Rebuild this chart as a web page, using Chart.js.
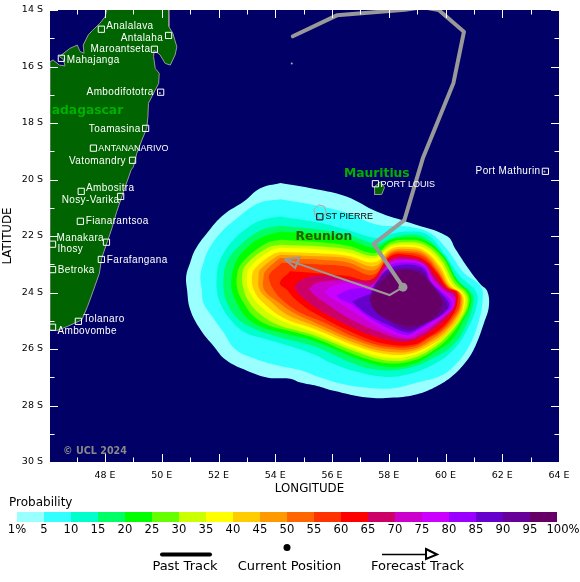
<!DOCTYPE html>
<html>
<head>
<meta charset="utf-8">
<style>
  html, body { margin: 0; padding: 0; background: #fff; }
  canvas { display: block; }
</style>
<script src="https://cdn.jsdelivr.net/npm/chart.js@4"></script>
</head>
<body>
<canvas id="chartStrike" width="580" height="582"></canvas>
<script>
// axes
const lonTicks = [48, 50, 52, 54, 56, 58, 60, 62, 64];
const lonMinorTicks = [47, 49, 51, 53, 55, 57, 59, 61, 63];
const latTicks = [-14, -16, -18, -20, -22, -24, -26, -28, -30];
const latMinorTicks = [-15, -17, -19, -21, -23, -25, -27, -29];

// probability bands, lowest first
const probLabels = ['1%', '5', '10', '15', '20', '25', '30', '35', '40', '45', '50', '55', '60', '65', '70', '75', '80', '85', '90', '95', '100%'];
const probColors = ['#99ffff', '#33ffff', '#00ffcc', '#00ff66', '#00ff00', '#66ff00', '#ccff00', '#ffff00', '#ffcc00', '#ff9900', '#ff6600', '#ff3300', '#ff0000', '#cc0066', '#cc00cc', '#cc00ff', '#9900ff', '#6600cc', '#660099', '#660066'];

// outer edge of each band as [lon, lat]
const contours = [
  [[54.18,-20.12],[55.59,-20.37],[56.53,-20.61],[57.59,-21.14],[58.77,-21.54],[60.06,-22.01],[60.36,-22.48],[60.83,-23.19],[61.24,-23.72],[61.47,-23.95],[61.53,-24.48],[61.36,-25.07],[61.00,-26.01],[60.65,-26.54],[60.18,-27.01],[59.59,-27.37],[59.00,-27.60],[58.18,-27.72],[57.24,-27.72],[56.06,-27.48],[55.47,-27.31],[54.89,-27.19],[54.53,-27.05],[53.71,-27.01],[52.89,-26.72],[52.24,-26.37],[51.83,-25.90],[51.36,-25.31],[51.00,-24.60],[50.89,-23.90],[50.86,-23.42],[51.00,-22.95],[51.18,-22.48],[51.59,-21.90],[52.18,-21.25],[52.89,-20.78],[53.47,-20.31]],
  [[54.18,-20.70],[55.59,-20.95],[56.53,-21.19],[57.59,-21.60],[58.77,-21.68],[59.47,-21.90],[60.06,-22.48],[60.65,-23.31],[61.24,-23.78],[61.30,-24.37],[61.12,-25.19],[60.83,-25.90],[60.36,-26.54],[59.83,-26.95],[59.00,-27.19],[58.18,-27.39],[57.24,-27.37],[56.41,-27.25],[55.59,-27.01],[54.89,-26.75],[54.18,-26.60],[53.36,-26.37],[52.59,-26.01],[52.18,-25.42],[51.77,-24.84],[51.47,-24.37],[51.41,-23.90],[51.36,-23.42],[51.47,-22.95],[51.65,-22.48],[52.06,-21.90],[52.65,-21.37],[53.41,-20.84]],
  [[54.18,-21.31],[55.59,-21.54],[56.53,-21.78],[57.59,-22.07],[58.18,-21.90],[58.77,-21.84],[59.36,-21.95],[59.94,-22.60],[60.51,-23.42],[61.06,-23.95],[61.12,-24.37],[60.83,-25.19],[60.30,-26.01],[59.59,-26.54],[58.65,-26.90],[57.83,-26.98],[56.77,-26.78],[55.89,-26.46],[55.36,-26.19],[54.53,-25.90],[53.71,-25.66],[52.94,-25.42],[52.41,-24.95],[52.06,-24.37],[51.94,-23.90],[51.94,-23.42],[52.00,-23.01],[52.18,-22.60],[52.53,-22.13],[53.06,-21.68],[53.59,-21.42]],
  [[54.18,-21.64],[55.59,-21.78],[56.53,-21.95],[57.59,-22.27],[58.12,-22.07],[58.77,-21.95],[59.30,-22.07],[59.89,-22.66],[60.39,-23.54],[60.94,-24.04],[60.98,-24.37],[60.77,-25.07],[60.30,-25.84],[59.59,-26.31],[58.89,-26.62],[58.18,-26.75],[57.36,-26.70],[56.65,-26.48],[55.36,-25.90],[54.18,-25.60],[53.18,-25.25],[52.65,-24.90],[52.30,-24.37],[52.18,-23.90],[52.18,-23.42],[52.24,-23.07],[52.41,-22.72],[52.77,-22.31],[53.30,-21.90],[53.71,-21.72]],
  [[54.18,-21.84],[55.59,-21.95],[56.53,-22.11],[57.53,-22.42],[58.06,-22.13],[58.65,-22.04],[59.24,-22.13],[59.94,-22.70],[60.41,-23.54],[60.86,-24.04],[60.89,-24.42],[60.65,-24.95],[60.24,-25.66],[59.59,-26.13],[58.89,-26.52],[58.06,-26.64],[57.00,-26.39],[55.36,-25.72],[54.18,-25.42],[53.59,-25.25],[53.00,-24.90],[52.65,-24.37],[52.47,-23.90],[52.47,-23.42],[52.65,-22.84],[53.00,-22.42],[53.47,-22.07]],
  [[54.18,-22.13],[55.59,-22.22],[56.53,-22.34],[57.53,-22.60],[58.06,-22.22],[58.65,-22.13],[59.24,-22.22],[59.89,-22.74],[60.37,-23.60],[60.79,-24.04],[60.83,-24.42],[60.59,-24.95],[60.12,-25.60],[59.59,-26.04],[58.89,-26.40],[58.06,-26.51],[57.00,-26.27],[55.36,-25.60],[54.53,-25.37],[53.83,-25.19],[53.24,-24.84],[52.89,-24.37],[52.67,-23.90],[52.65,-23.42],[52.83,-22.95],[53.65,-22.27]],
  [[54.18,-22.31],[55.59,-22.37],[56.53,-22.46],[57.53,-22.70],[58.06,-22.31],[58.65,-22.22],[59.24,-22.31],[59.85,-22.84],[60.30,-23.66],[60.72,-24.05],[60.77,-24.42],[60.53,-24.95],[60.06,-25.54],[59.59,-25.95],[58.89,-26.31],[58.06,-26.42],[57.00,-26.15],[55.36,-25.51],[54.06,-25.13],[53.41,-24.72],[53.06,-24.31],[52.89,-23.90],[52.83,-23.42],[52.98,-23.01],[53.73,-22.42]],
  [[54.18,-22.42],[55.59,-22.48],[56.53,-22.58],[57.53,-22.78],[58.06,-22.39],[58.65,-22.31],[59.24,-22.42],[59.83,-22.95],[60.24,-23.72],[60.65,-24.07],[60.67,-24.46],[60.47,-24.90],[60.00,-25.42],[59.59,-25.84],[58.89,-26.21],[58.06,-26.31],[57.00,-26.07],[55.36,-25.40],[54.18,-24.98],[53.47,-24.48],[53.06,-23.90],[53.00,-23.42],[53.12,-23.07],[53.83,-22.52]],
  [[54.18,-22.57],[55.59,-22.62],[56.53,-22.70],[57.51,-22.93],[58.06,-22.46],[58.65,-22.39],[59.24,-22.51],[59.79,-23.05],[60.18,-23.75],[60.59,-24.08],[60.63,-24.46],[60.47,-24.91],[60.06,-25.42],[59.59,-25.80],[58.89,-26.13],[58.06,-26.20],[57.00,-25.95],[55.36,-25.28],[54.30,-24.90],[53.59,-24.37],[53.24,-23.90],[53.18,-23.42],[53.30,-23.13],[53.89,-22.66]],
  [[54.18,-22.66],[55.59,-22.72],[56.53,-22.79],[57.50,-23.07],[58.06,-22.53],[58.65,-22.46],[59.24,-22.58],[59.77,-23.13],[60.13,-23.78],[60.53,-24.04],[60.58,-24.46],[60.41,-24.86],[60.00,-25.38],[59.53,-25.73],[58.89,-26.05],[58.06,-26.11],[57.00,-25.86],[55.36,-25.17],[54.41,-24.78],[53.83,-24.31],[53.45,-23.90],[53.41,-23.42],[53.47,-23.19],[54.00,-22.75]],
  [[54.18,-22.78],[55.59,-22.84],[56.53,-22.93],[57.47,-23.21],[58.06,-22.60],[58.65,-22.53],[59.24,-22.66],[59.73,-23.21],[60.11,-23.80],[60.49,-24.01],[60.53,-24.46],[60.36,-24.84],[59.94,-25.34],[59.47,-25.68],[58.89,-25.98],[58.06,-26.01],[57.00,-25.75],[55.36,-25.05],[54.65,-24.72],[54.06,-24.31],[53.61,-23.90],[53.59,-23.42],[53.65,-23.25],[54.06,-22.86]],
  [[54.24,-22.95],[55.59,-23.01],[56.53,-23.09],[57.45,-23.37],[58.06,-22.66],[58.65,-22.59],[59.24,-22.74],[59.71,-23.26],[60.09,-23.81],[60.44,-23.99],[60.49,-24.46],[60.30,-24.81],[59.89,-25.31],[59.41,-25.62],[58.89,-25.90],[58.06,-25.93],[57.00,-25.66],[55.59,-25.01],[54.89,-24.72],[54.30,-24.31],[53.94,-23.90],[53.77,-23.48],[53.83,-23.31]],
  [[54.53,-23.25],[55.59,-23.33],[56.53,-23.42],[57.38,-23.54],[58.06,-22.72],[58.65,-22.66],[59.24,-22.84],[59.71,-23.33],[60.06,-23.84],[60.39,-23.99],[60.41,-24.42],[60.24,-24.81],[59.83,-25.28],[59.36,-25.60],[58.89,-25.84],[58.06,-25.85],[57.00,-25.54],[55.36,-24.72],[54.71,-24.25],[54.41,-23.90],[54.16,-23.66]],
  [[54.67,-23.78],[54.94,-23.54],[55.59,-23.40],[56.53,-23.52],[57.45,-23.54],[57.77,-23.13],[58.06,-22.81],[58.65,-22.74],[59.24,-22.91],[59.65,-23.42],[60.04,-23.87],[60.34,-24.04],[60.36,-24.42],[60.16,-24.78],[59.73,-25.19],[59.27,-25.51],[58.65,-25.74],[58.06,-25.69],[57.00,-25.37],[55.71,-24.72],[55.12,-24.31],[54.79,-24.01]],
  [[55.18,-23.87],[55.47,-23.66],[56.30,-23.57],[57.00,-23.64],[57.41,-23.72],[57.83,-23.17],[58.06,-22.88],[58.65,-22.81],[59.24,-22.98],[59.61,-23.52],[60.00,-23.92],[60.30,-24.11],[60.32,-24.48],[60.10,-24.74],[59.65,-25.13],[59.18,-25.46],[58.65,-25.66],[57.71,-25.42],[56.65,-24.95],[55.71,-24.34],[55.36,-24.07]],
  [[55.73,-23.95],[56.12,-23.74],[56.77,-23.68],[57.36,-23.78],[57.88,-23.19],[58.06,-22.95],[58.65,-22.86],[59.24,-23.02],[59.57,-23.60],[59.97,-23.97],[60.24,-24.19],[60.27,-24.51],[60.04,-24.74],[59.59,-25.10],[59.10,-25.40],[58.65,-25.58],[57.83,-25.33],[57.00,-24.84],[56.18,-24.31],[55.89,-24.13]],
  [[56.16,-24.11],[56.53,-23.92],[57.00,-23.84],[57.36,-23.87],[57.94,-23.25],[58.06,-23.02],[58.65,-22.93],[59.24,-23.09],[59.50,-23.60],[59.89,-23.99],[60.18,-24.27],[60.20,-24.54],[59.98,-24.74],[59.53,-25.04],[59.03,-25.34],[58.65,-25.51],[57.94,-25.25],[57.24,-24.84],[56.65,-24.40],[56.30,-24.25]],
  [[56.71,-24.31],[57.18,-24.11],[57.41,-24.01],[57.71,-23.42],[58.06,-23.13],[58.65,-23.01],[59.24,-23.17],[59.47,-23.64],[59.83,-24.01],[60.13,-24.42],[59.92,-24.74],[59.47,-25.01],[58.98,-25.31],[58.65,-25.42],[58.06,-25.19],[57.36,-24.84],[57.00,-24.58]],
  [[57.30,-24.19],[57.59,-23.60],[58.06,-23.25],[58.65,-23.13],[59.24,-23.28],[59.41,-23.66],[59.77,-24.04],[60.06,-24.48],[59.85,-24.78],[59.41,-25.05],[58.94,-25.27],[58.65,-25.33],[58.18,-25.13],[57.71,-24.78]],
  [[57.33,-24.25],[57.65,-23.72],[58.18,-23.28],[58.77,-23.21],[59.24,-23.42],[59.77,-24.07],[59.89,-24.42],[59.59,-24.90],[59.12,-25.13],[58.65,-25.19],[57.94,-24.95],[57.47,-24.60]]
];

// land outlines
const madagascar = [[48.08,-13.94],[50.24,-13.94],[50.25,-14.59],[50.39,-14.83],[50.53,-15.30],[50.47,-15.59],[50.30,-15.95],[50.12,-15.89],[49.94,-15.59],[49.73,-15.42],[49.71,-15.65],[49.77,-16.07],[49.91,-16.24],[49.89,-16.60],[49.77,-16.83],[49.53,-17.30],[49.51,-17.78],[49.47,-18.19],[49.30,-18.60],[49.12,-19.07],[49.00,-19.55],[48.92,-19.66],[48.65,-20.43],[48.41,-21.14],[48.24,-21.73],[48.04,-22.32],[47.88,-22.79],[47.80,-23.32],[47.53,-24.09],[47.38,-24.50],[47.18,-24.97],[46.65,-25.21],[46.29,-25.35],[46.06,-25.33],[46.06,-15.83],[46.17,-15.77],[46.39,-15.95],[46.59,-15.98],[46.53,-15.75],[46.39,-15.65],[46.76,-15.36],[47.02,-15.24],[47.12,-15.47],[47.26,-15.53],[47.23,-15.24],[47.41,-14.88],[47.55,-14.73],[47.82,-14.47],[48.00,-14.24],[48.08,-13.94]];
const mauritius = [[57.71,-20.08],[57.85,-20.28],[57.75,-20.53],[57.48,-20.53],[57.50,-20.25],[57.71,-20.08]];
const reunion = [[55.36,-21.07],[55.53,-20.90],[55.73,-20.95],[55.80,-21.19],[55.59,-21.40],[55.41,-21.31],[55.36,-21.07]];
const islets = [[54.58,-15.89],[63.49,-19.72],[49.93,-16.94]];

// tracks
const pastTrack = [[54.62,-14.93],[56.17,-14.19],[58.57,-13.99],[59.2,-13.9],[59.76,-14.0],[60.65,-14.77],[60.28,-16.58],[59.2,-19.25],[58.55,-21.44],[57.47,-22.28],[58.5,-23.81]];
const currentPosition = [[58.5,-23.81]];
const forecastTrack = [[58.5,-23.81],[58.03,-24.09],[54.33,-22.82]];
const forecastHead = [[54.33,-22.82],[54.85,-22.76],[54.7,-23.13],[54.33,-22.82]];

// towns and where their names sit
const townNames = ['Analalava', 'Antalaha', 'Maroantseta', 'Mahajanga', 'Ambodifototra', 'Toamasina', 'ANTANANARIVO', 'Vatomandry', 'Ambositra', 'Nosy-Varika', 'Fianarantsoa', 'Manakara', 'Ihosy', 'Farafangana', 'Betroka', 'Tolanaro', 'Ambovombe', 'PORT LOUIS', 'ST PIERRE', 'Port Mathurin'];
const townLons = [47.87, 50.24, 49.74, 46.46, 49.96, 49.43, 47.59, 48.97, 47.16, 48.55, 47.13, 48.05, 46.15, 47.87, 46.15, 47.06, 46.15, 57.53, 55.57, 63.52];
const townLats = [-14.68, -14.90, -15.39, -15.71, -16.91, -18.19, -18.89, -19.32, -20.42, -20.60, -21.48, -22.22, -22.29, -22.83, -23.19, -25.02, -25.23, -20.15, -21.32, -19.71];
const townLabelLons = [48.04, 48.55, 47.49, 46.65, 47.35, 47.43, 47.76, 46.73, 47.33, 46.47, 47.32, 46.29, 46.32, 48.06, 46.33, 47.23, 46.32, 57.71, 55.77, 61.06];
const townLabelLats = [-14.55, -14.97, -15.37, -15.73, -16.89, -18.17, -18.87, -19.33, -20.29, -20.70, -21.46, -22.06, -22.45, -22.83, -23.19, -24.90, -25.32, -20.15, -21.28, -19.69];

const toPoints = list => list.map(p => ({ x: p[0], y: p[1] }));
const closed = list => list.concat([list[0]]);

// listed bottom layer first, reversed below since Chart.js paints index 0 last
const layers = [];
layers.push({ data: toPoints(madagascar), showLine: true, fill: 'shape', backgroundColor: '#006400', borderColor: '#999999', borderWidth: 1, pointRadius: 0 });
contours.forEach((ring, i) => {
    layers.push({ data: toPoints(closed(ring)), showLine: true, fill: 'shape', backgroundColor: probColors[i], borderWidth: 0, tension: 0.4, pointRadius: 0 });
});
layers.push({ data: toPoints(mauritius), showLine: true, fill: 'shape', backgroundColor: '#006400', borderColor: '#999999', borderWidth: 1, pointRadius: 0 });
layers.push({ data: toPoints(reunion), showLine: true, borderColor: '#d09a9a', borderWidth: 1, pointRadius: 0 });
layers.push({ data: toPoints(islets), pointRadius: 1, pointBackgroundColor: '#b0b0b0', pointBorderWidth: 0 });
layers.push({ data: toPoints(pastTrack), showLine: true, borderColor: '#999999', borderWidth: 4, borderCapStyle: 'round', borderJoinStyle: 'round', pointRadius: 0 });
layers.push({ data: toPoints(forecastTrack), showLine: true, borderColor: '#999999', borderWidth: 2, pointRadius: 0 });
layers.push({ data: toPoints(forecastHead), showLine: true, borderColor: '#999999', borderWidth: 2, pointRadius: 0 });
layers.push({ data: toPoints(currentPosition), pointRadius: 4.5, pointBackgroundColor: '#999999', pointBorderWidth: 0 });
layers.push({
    data: townNames.map((n, i) => ({ x: townLons[i], y: townLats[i] })),
    pointStyle: 'rect',
    pointRadius: 4.4,
    pointBorderWidth: 1,
    pointBackgroundColor: 'transparent',
    pointBorderColor: townNames.map(n => n === 'ST PIERRE' ? '#000000' : '#ffffff')
});

function putText(ctx, text, x, y, font, color, align, spacing) {
    ctx.font = font;
    ctx.fillStyle = color;
    ctx.textAlign = align || 'left';
    ctx.textBaseline = 'middle';
    ctx.letterSpacing = (spacing || 0) + 'px';
    ctx.fillText(text, x, y);
    ctx.letterSpacing = '0px';
}

// navy sea behind everything
const seaPlugin = {
    id: 'sea',
    beforeDatasetsDraw(chart) {
        const a = chart.chartArea;
        chart.ctx.fillStyle = '#000066';
        chart.ctx.fillRect(a.left, a.top, a.right - a.left, a.bottom - a.top);
    }
};

// white ticks on the inside of all four edges, plus map labels
const mapPlugin = {
    id: 'map',
    afterDatasetsDraw(chart) {
        const { ctx, chartArea: a, scales: { x, y } } = chart;
        const sx = v => x.getPixelForValue(v);
        const sy = v => y.getPixelForValue(v) + 1;

        ctx.save();
        townNames.forEach((n, i) => {
            const caps = n === n.toUpperCase();
            const font = caps ? '9px "Liberation Sans"' : '10px "Liberation Sans"';
            putText(ctx, n, sx(townLabelLons[i]), sy(townLabelLats[i]), font, n === 'ST PIERRE' ? '#000000' : '#ffffff', 'left', caps ? 0 : 0.38);
        });
        ctx.beginPath();
        ctx.rect(a.left, a.top, a.right - a.left, a.bottom - a.top);
        ctx.clip();
        const areaFont = 'bold 12.3px "DejaVu Sans"';
        putText(ctx, 'Madagascar', sx(48.64), sy(-17.54), areaFont, '#00b000', 'right');
        putText(ctx, 'Mauritius', sx(56.42), sy(-19.78), areaFont, '#00b000');
        putText(ctx, 'Reunion', sx(54.71), sy(-21.98), areaFont, '#2a5a00');
        putText(ctx, '\u00a9 UCL 2024', sx(46.52), sy(-29.61), 'bold 9.6px "DejaVu Sans"', '#888888');

        ctx.strokeStyle = '#ffffff';
        ctx.lineWidth = 1;
        ctx.beginPath();
        const tickX = (v, len) => {
            const px = Math.round(sx(v)) + 0.5;
            ctx.moveTo(px, a.top); ctx.lineTo(px, a.top + len);
            ctx.moveTo(px, a.bottom); ctx.lineTo(px, a.bottom - len);
        };
        const tickY = (v, len) => {
            const py = Math.round(y.getPixelForValue(v)) + 0.5;
            ctx.moveTo(a.left, py); ctx.lineTo(a.left + len, py);
            ctx.moveTo(a.right, py); ctx.lineTo(a.right - len, py);
        };
        lonTicks.forEach(v => tickX(v, 8));
        lonMinorTicks.forEach(v => tickX(v, 4.5));
        latTicks.forEach(v => tickY(v, 8));
        latMinorTicks.forEach(v => tickY(v, 4.5));
        ctx.stroke();
        ctx.restore();
    },
    afterDraw(chart) {
        const ctx = chart.ctx;
        ctx.save();
        putText(ctx, 'LONGITUDE', 309.5, 488.5, '11.8px "DejaVu Sans"', '#000000', 'center');
        putText(ctx, 'Probability', 9, 503, '12px "DejaVu Sans"', '#000000');

        // colour key
        probColors.forEach((c, i) => {
            ctx.fillStyle = c;
            ctx.fillRect(17 + i * 27, 512, 27, 10);
        });
        probLabels.forEach((label, i) => {
            const shift = label === '100%' ? 6 : 0;
            putText(ctx, label, 17 + i * 27 + shift, 530, '11.6px "DejaVu Sans"', '#000000', 'center');
        });

        // track key
        ctx.strokeStyle = '#000000';
        ctx.lineCap = 'round';
        ctx.lineWidth = 4;
        ctx.beginPath(); ctx.moveTo(162, 554.5); ctx.lineTo(210, 554.5); ctx.stroke();
        ctx.fillStyle = '#000000';
        ctx.beginPath(); ctx.arc(287, 547.5, 3.5, 0, Math.PI * 2); ctx.fill();
        ctx.lineCap = 'butt';
        ctx.lineWidth = 1.5;
        ctx.beginPath(); ctx.moveTo(382, 554.5); ctx.lineTo(426, 554.5); ctx.stroke();
        ctx.lineWidth = 2;
        ctx.beginPath(); ctx.moveTo(426, 549); ctx.lineTo(437, 554.5); ctx.lineTo(426, 559); ctx.closePath(); ctx.stroke();
        const keyFont = '13px "DejaVu Sans"';
        putText(ctx, 'Past Track', 185, 566.5, keyFont, '#000000', 'center');
        putText(ctx, 'Current Position', 289.5, 566.5, keyFont, '#000000', 'center');
        putText(ctx, 'Forecast Track', 417.5, 566.5, keyFont, '#000000', 'center');
        ctx.restore();
    }
};

new Chart(document.getElementById('chartStrike').getContext('2d'), {
    type: 'scatter',
    data: { datasets: layers.slice().reverse() },
    plugins: [seaPlugin, mapPlugin],
    options: {
        responsive: false,
        animation: false,
        devicePixelRatio: 1,
        layout: { padding: { top: 10, right: 21, left: 0, bottom: 80 } },
        plugins: { legend: { display: false }, tooltip: { enabled: false } },
        scales: {
            x: {
                type: 'linear',
                min: 46.06,
                max: 64,
                afterBuildTicks: axis => { axis.ticks = lonTicks.map(v => ({ value: v })); },
                afterFit: axis => { axis.height = 40; axis.paddingLeft = 0; axis.paddingRight = 0; },
                grid: { display: false, drawTicks: false },
                border: { display: false },
                ticks: {
                    padding: 8,
                    autoSkip: false,
                    maxRotation: 0,
                    color: '#000000',
                    font: { family: 'DejaVu Sans', size: 9.5 },
                    callback: v => v + ' E'
                }
            },
            y: {
                type: 'linear',
                min: -30,
                max: -14,
                afterBuildTicks: axis => { axis.ticks = latTicks.map(v => ({ value: v })); },
                afterFit: axis => { axis.width = 50; axis.paddingTop = 0; axis.paddingBottom = 0; },
                grid: { display: false, drawTicks: false },
                border: { display: false },
                title: {
                    display: true,
                    text: 'LATITUDE',
                    color: '#000000',
                    padding: { top: 1, bottom: 0 },
                    font: { family: 'DejaVu Sans', size: 11.8 }
                },
                ticks: {
                    padding: 7,
                    autoSkip: false,
                    color: '#000000',
                    font: { family: 'DejaVu Sans', size: 9.5 },
                    callback: v => Math.abs(v) + ' S'
                }
            }
        }
    }
});
</script>
</body>
</html>
